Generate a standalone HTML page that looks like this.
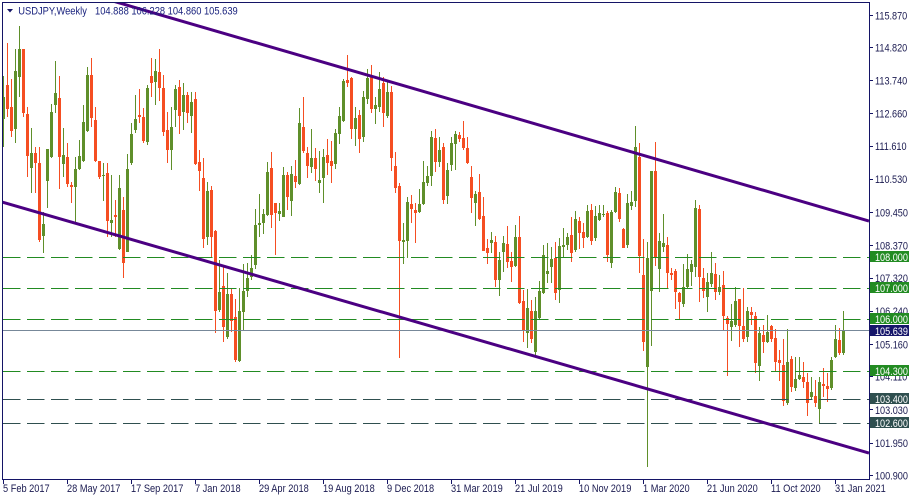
<!DOCTYPE html>
<html><head><meta charset="utf-8"><style>
html,body{margin:0;padding:0;background:#fff;}
svg{display:block;}
text{font-family:"Liberation Sans",Arial,sans-serif;font-size:11px;}
</style></head><body>
<svg width="915" height="500" viewBox="0 0 915 500" xmlns="http://www.w3.org/2000/svg">
<defs><clipPath id="pc"><rect x="3" y="3" width="866" height="476"/></clipPath></defs>
<rect x="0" y="0" width="915" height="500" fill="#ffffff"/>
<g clip-path="url(#pc)" shape-rendering="crispEdges">
<path fill="#5f8f2a" d="M3 76h1V147h-1zM2 97h3V119h-3zM15 49h1V143h-1zM14 71h3V129h-3zM19 26h1V97h-1zM18 49h3V77h-3zM31 128h1V193h-1zM30 153h3V168h-3zM43 212h1V253h-1zM42 224h3V236h-3zM47 149h1V208h-1zM46 149h3V181h-3zM51 104h1V158h-1zM50 112h3V157h-3zM55 61h1V113h-1zM54 93h3V105h-3zM63 128h1V177h-1zM62 155h3V164h-3zM75 157h1V223h-1zM74 169h3V187h-3zM79 140h1V170h-1zM78 156h3V169h-3zM83 105h1V162h-1zM82 122h3V161h-3zM87 67h1V132h-1zM86 75h3V131h-3zM103 163h1V201h-1zM102 175h3V176h-3zM111 175h1V237h-1zM110 220h3V223h-3zM119 175h1V250h-1zM118 188h3V249h-3zM127 154h1V252h-1zM126 169h3V252h-3zM131 123h1V165h-1zM130 134h3V163h-3zM135 95h1V133h-1zM134 119h3V130h-3zM147 85h1V145h-1zM146 88h3V142h-3zM155 59h1V105h-1zM154 71h3V82h-3zM171 107h1V170h-1zM170 127h3V150h-3zM175 85h1V127h-1zM174 89h3V110h-3zM183 83h1V130h-1zM182 95h3V112h-3zM191 92h1V133h-1zM190 102h3V116h-3zM207 182h1V245h-1zM206 191h3V237h-3zM219 260h1V312h-1zM218 292h3V310h-3zM227 273h1V339h-1zM226 294h3V337h-3zM239 288h1V362h-1zM238 311h3V361h-3zM243 264h1V330h-1zM242 291h3V312h-3zM247 263h1V297h-1zM246 278h3V291h-3zM251 255h1V280h-1zM250 268h3V277h-3zM255 209h1V269h-1zM254 225h3V265h-3zM259 194h1V237h-1zM258 223h3V225h-3zM263 209h1V234h-1zM262 214h3V223h-3zM267 162h1V216h-1zM266 172h3V215h-3zM279 203h1V221h-1zM278 211h3V214h-3zM283 167h1V217h-1zM282 175h3V217h-3zM291 166h1V216h-1zM290 174h3V201h-3zM299 108h1V185h-1zM298 123h3V184h-3zM311 129h1V173h-1zM310 158h3V167h-3zM319 151h1V193h-1zM318 180h3V183h-3zM323 149h1V203h-1zM322 157h3V178h-3zM335 129h1V169h-1zM334 133h3V164h-3zM339 107h1V144h-1zM338 116h3V134h-3zM343 79h1V122h-1zM342 81h3V121h-3zM355 107h1V146h-1zM354 118h3V129h-3zM363 91h1V142h-1zM362 97h3V137h-3zM367 69h1V104h-1zM366 78h3V99h-3zM375 97h1V124h-1zM374 105h3V109h-3zM379 72h1V112h-1zM378 89h3V107h-3zM387 82h1V118h-1zM386 92h3V116h-3zM403 223h1V264h-1zM402 240h3V242h-3zM407 197h1V258h-1zM406 202h3V241h-3zM419 189h1V213h-1zM418 204h3V212h-3zM423 161h1V205h-1zM422 182h3V204h-3zM427 166h1V186h-1zM426 176h3V183h-3zM431 131h1V186h-1zM430 137h3V176h-3zM439 137h1V167h-1zM438 150h3V162h-3zM447 163h1V204h-1zM446 170h3V196h-3zM451 137h1V171h-1zM450 143h3V165h-3zM455 131h1V170h-1zM454 134h3V144h-3zM475 191h1V226h-1zM474 194h3V203h-3zM491 232h1V253h-1zM490 240h3V243h-3zM499 252h1V296h-1zM498 260h3V280h-3zM503 236h1V272h-1zM502 243h3V252h-3zM515 225h1V267h-1zM514 237h3V266h-3zM527 289h1V348h-1zM526 308h3V333h-3zM535 297h1V357h-1zM534 311h3V352h-3zM539 281h1V319h-1zM538 291h3V318h-3zM543 245h1V294h-1zM542 255h3V293h-3zM547 243h1V283h-1zM546 271h3V274h-3zM551 247h1V283h-1zM550 259h3V267h-3zM559 238h1V303h-1zM558 246h3V290h-3zM563 228h1V257h-1zM562 245h3V247h-3zM567 233h1V250h-1zM566 237h3V245h-3zM575 211h1V252h-1zM574 219h3V250h-3zM587 205h1V238h-1zM586 211h3V237h-3zM595 206h1V241h-1zM594 216h3V238h-3zM599 205h1V221h-1zM598 213h3V220h-3zM603 205h1V217h-1zM602 214h3V215h-3zM611 210h1V268h-1zM610 212h3V263h-3zM615 187h1V213h-1zM614 192h3V212h-3zM627 194h1V248h-1zM626 203h3V245h-3zM631 191h1V210h-1zM630 202h3V206h-3zM635 126h1V207h-1zM634 147h3V201h-3zM647 242h1V467h-1zM646 258h3V367h-3zM651 171h1V346h-1zM650 171h3V291h-3zM659 233h1V292h-1zM658 241h3V269h-3zM663 214h1V252h-1zM662 243h3V247h-3zM683 264h1V307h-1zM682 287h3V304h-3zM687 254h1V288h-1zM686 269h3V287h-3zM691 260h1V286h-1zM690 264h3V272h-3zM695 200h1V277h-1zM694 208h3V267h-3zM707 273h1V312h-1zM706 282h3V297h-3zM711 252h1V287h-1zM710 273h3V284h-3zM719 275h1V295h-1zM718 287h3V292h-3zM731 304h1V341h-1zM730 321h3V327h-3zM735 287h1V327h-1zM734 301h3V325h-3zM747 307h1V342h-1zM746 311h3V337h-3zM759 327h1V381h-1zM758 333h3V366h-3zM767 315h1V343h-1zM766 332h3V342h-3zM787 329h1V405h-1zM786 362h3V403h-3zM795 357h1V391h-1zM794 379h3V388h-3zM799 357h1V380h-1zM798 375h3V379h-3zM811 377h1V400h-1zM810 392h3V397h-3zM819 377h1V424h-1zM818 382h3V409h-3zM831 357h1V390h-1zM830 360h3V388h-3zM835 325h1V358h-1zM834 339h3V357h-3zM843 311h1V355h-1zM842 330h3V353h-3z"/>
<path fill="#f54e22" d="M7 43h1V117h-1zM6 85h3V109h-3zM11 79h1V137h-1zM10 107h3V131h-3zM23 49h1V117h-1zM22 49h3V113h-3zM27 107h1V177h-1zM26 114h3V156h-3zM35 147h1V193h-1zM34 153h3V163h-3zM39 147h1V242h-1zM38 163h3V240h-3zM59 76h1V189h-1zM58 98h3V157h-3zM67 143h1V187h-1zM66 157h3V184h-3zM71 182h1V203h-1zM70 185h3V187h-3zM91 58h1V127h-1zM90 75h3V118h-3zM95 107h1V162h-1zM94 120h3V161h-3zM99 161h1V179h-1zM98 161h3V177h-3zM107 163h1V237h-1zM106 173h3V221h-3zM115 200h1V237h-1zM114 215h3V217h-3zM123 197h1V278h-1zM122 210h3V263h-3zM139 89h1V123h-1zM138 115h3V117h-3zM143 108h1V143h-1zM142 117h3V141h-3zM151 58h1V97h-1zM150 76h3V83h-3zM159 49h1V101h-1zM158 72h3V88h-3zM163 75h1V136h-1zM162 88h3V132h-3zM167 112h1V163h-1zM166 130h3V150h-3zM179 80h1V134h-1zM178 87h3V116h-3zM187 92h1V123h-1zM186 95h3V113h-3zM195 92h1V165h-1zM194 99h3V164h-3zM199 150h1V191h-1zM198 162h3V171h-3zM203 158h1V248h-1zM202 178h3V239h-3zM211 186h1V257h-1zM210 190h3V237h-3zM215 230h1V333h-1zM214 231h3V311h-3zM223 267h1V342h-1zM222 286h3V327h-3zM231 288h1V332h-1zM230 294h3V321h-3zM235 299h1V362h-1zM234 317h3V360h-3zM271 152h1V228h-1zM270 168h3V215h-3zM275 203h1V255h-1zM274 203h3V213h-3zM287 172h1V210h-1zM286 175h3V197h-3zM295 160h1V188h-1zM294 176h3V182h-3zM303 97h1V153h-1zM302 127h3V151h-3zM307 147h1V178h-1zM306 153h3V166h-3zM315 148h1V181h-1zM314 158h3V169h-3zM327 139h1V175h-1zM326 155h3V163h-3zM331 141h1V183h-1zM330 161h3V166h-3zM347 55h1V87h-1zM346 80h3V83h-3zM351 77h1V139h-1zM350 78h3V129h-3zM359 110h1V153h-1zM358 115h3V139h-3zM371 65h1V113h-1zM370 77h3V109h-3zM383 77h1V127h-1zM382 83h3V113h-3zM391 86h1V171h-1zM390 92h3V158h-3zM395 152h1V193h-1zM394 166h3V188h-3zM399 183h1V358h-1zM398 186h3V241h-3zM411 195h1V223h-1zM410 204h3V209h-3zM415 203h1V243h-1zM414 210h3V213h-3zM435 129h1V172h-1zM434 138h3V162h-3zM443 143h1V204h-1zM442 147h3V200h-3zM459 132h1V142h-1zM458 135h3V139h-3zM463 121h1V150h-1zM462 138h3V148h-3zM467 137h1V164h-1zM466 148h3V163h-3zM471 166h1V213h-1zM470 177h3V198h-3zM479 174h1V220h-1zM478 192h3V219h-3zM483 197h1V251h-1zM482 216h3V251h-3zM487 239h1V264h-1zM486 248h3V253h-3zM495 236h1V287h-1zM494 242h3V280h-3zM507 226h1V268h-1zM506 244h3V262h-3zM511 252h1V282h-1zM510 261h3V267h-3zM519 216h1V304h-1zM518 237h3V303h-3zM523 290h1V342h-1zM522 301h3V330h-3zM531 300h1V343h-1zM530 311h3V339h-3zM555 242h1V300h-1zM554 258h3V293h-3zM571 217h1V262h-1zM570 235h3V253h-3zM579 217h1V249h-1zM578 221h3V233h-3zM583 223h1V248h-1zM582 232h3V238h-3zM591 204h1V245h-1zM590 210h3V241h-3zM607 211h1V262h-1zM606 213h3V255h-3zM619 188h1V222h-1zM618 193h3V219h-3zM623 228h1V248h-1zM622 229h3V248h-3zM639 143h1V273h-1zM638 157h3V256h-3zM643 239h1V351h-1zM642 275h3V342h-3zM655 142h1V266h-1zM654 171h3V258h-3zM667 237h1V289h-1zM666 245h3V273h-3zM671 268h1V280h-1zM670 273h3V275h-3zM675 269h1V309h-1zM674 271h3V292h-3zM679 292h1V319h-1zM678 293h3V302h-3zM699 205h1V302h-1zM698 209h3V277h-3zM703 268h1V298h-1zM702 278h3V291h-3zM715 263h1V300h-1zM714 274h3V292h-3zM723 271h1V330h-1zM722 285h3V316h-3zM727 316h1V376h-1zM726 318h3V324h-3zM739 299h1V347h-1zM738 299h3V326h-3zM743 288h1V342h-1zM742 326h3V339h-3zM751 307h1V325h-1zM750 312h3V315h-3zM755 312h1V373h-1zM754 316h3V363h-3zM763 325h1V353h-1zM762 335h3V342h-3zM771 325h1V342h-1zM770 326h3V339h-3zM775 329h1V371h-1zM774 338h3V362h-3zM779 350h1V381h-1zM778 360h3V363h-3zM783 339h1V406h-1zM782 365h3V401h-3zM791 356h1V392h-1zM790 359h3V387h-3zM803 362h1V388h-1zM802 377h3V382h-3zM807 373h1V416h-1zM806 382h3V403h-3zM815 380h1V407h-1zM814 396h3V403h-3zM823 368h1V397h-1zM822 384h3V386h-3zM827 373h1V402h-1zM826 386h3V389h-3zM839 328h1V355h-1zM838 340h3V353h-3z"/>
</g>
<g clip-path="url(#pc)" fill="none">
<g stroke-width="1" stroke-dasharray="17.5 6.5">
<line x1="3" y1="257.5" x2="869" y2="257.5" stroke="#228b22"/>
<line x1="3" y1="288.5" x2="869" y2="288.5" stroke="#228b22"/>
<line x1="3" y1="319.5" x2="869" y2="319.5" stroke="#228b22"/>
<line x1="3" y1="371.5" x2="869" y2="371.5" stroke="#228b22"/>
<line x1="3" y1="399.5" x2="869" y2="399.5" stroke="#2f4f4f"/>
<line x1="3" y1="423.5" x2="869" y2="423.5" stroke="#2f4f4f"/>
</g>
<line x1="3" y1="330.5" x2="869" y2="330.5" stroke="#778899" stroke-width="1"/>
<line x1="111" y1="0.5" x2="869" y2="221" stroke="#4b0082" stroke-width="3"/>
<line x1="2" y1="202" x2="869" y2="453" stroke="#4b0082" stroke-width="3"/>
</g>
<g stroke="#141466" stroke-width="1" fill="none" shape-rendering="crispEdges">
<path d="M2.5 2.5H869.5V479.5H2.5Z"/>
<path d="M869 15.5h4M869 47.5h4M869 80.5h4M869 113.5h4M869 146.5h4M869 179.5h4M869 212.5h4M869 245.5h4M869 278.5h4M869 311.5h4M869 344.5h4M869 376.5h4M869 409.5h4M869 443.5h4M869 475.5h4"/>
<path d="M3.5 479v5M67.5 479v5M131.5 479v5M195.5 479v5M259.5 479v5M323.5 479v5M387.5 479v5M451.5 479v5M515.5 479v5M579.5 479v5M643.5 479v5M707.5 479v5M771.5 479v5M835.5 479v5"/>
</g>
<g fill="#1a1a50" transform="scale(0.83,1)">
<text x="1054.2" y="19.5">115.870</text>
<text x="1054.2" y="51.5">114.820</text>
<text x="1054.2" y="84.5">113.740</text>
<text x="1054.2" y="117.5">112.660</text>
<text x="1054.2" y="150">111.610</text>
<text x="1054.2" y="183">110.530</text>
<text x="1054.2" y="216.5">109.450</text>
<text x="1054.2" y="249.5">108.370</text>
<text x="1054.2" y="282">107.320</text>
<text x="1054.2" y="315">106.240</text>
<text x="1054.2" y="348.5">105.160</text>
<text x="1054.2" y="380.5">104.110</text>
<text x="1054.2" y="414">103.030</text>
<text x="1054.2" y="447">101.950</text>
<text x="1054.2" y="479.5">100.900</text>
</g>
<g shape-rendering="crispEdges">
<rect x="870" y="251" width="39" height="11" fill="#228b22"/>
<rect x="870" y="282" width="39" height="11" fill="#228b22"/>
<rect x="870" y="313" width="39" height="11" fill="#228b22"/>
<rect x="870" y="325" width="39" height="11" fill="#16166a"/>
<rect x="870" y="365" width="39" height="11" fill="#228b22"/>
<rect x="870" y="393" width="39" height="11" fill="#2f4f4f"/>
<rect x="870" y="417" width="39" height="11" fill="#2f4f4f"/>
</g>
<g fill="#ffffff" transform="scale(0.83,1)">
<text x="1054.2" y="261">108.000</text>
<text x="1054.2" y="292">107.000</text>
<text x="1054.2" y="323">106.000</text>
<text x="1054.2" y="335">105.639</text>
<text x="1054.2" y="375">104.300</text>
<text x="1054.2" y="403">103.400</text>
<text x="1054.2" y="427">102.600</text>
</g>
<g fill="#1a1a50" transform="scale(0.84,1)">
<text x="3.6" y="492">5 Feb 2017</text>
<text x="79.8" y="492">28 May 2017</text>
<text x="156" y="492">17 Sep 2017</text>
<text x="232.1" y="492">7 Jan 2018</text>
<text x="308.3" y="492">29 Apr 2018</text>
<text x="384.5" y="492">19 Aug 2018</text>
<text x="460.7" y="492">9 Dec 2018</text>
<text x="536.9" y="492">31 Mar 2019</text>
<text x="613.1" y="492">21 Jul 2019</text>
<text x="689.3" y="492">10 Nov 2019</text>
<text x="765.5" y="492">1 Mar 2020</text>
<text x="841.7" y="492">21 Jun 2020</text>
<text x="917.9" y="492">11 Oct 2020</text>
<text x="994" y="492">31 Jan 2021</text>
</g>
<polygon points="7,9 13,9 10,12.5" fill="#141466"/>
<g fill="#1a237e" transform="scale(0.85,1)">
<text x="21.5" y="14.5">USDJPY,Weekly</text>
<text x="111.8" y="14.5">104.888 106.228 104.860 105.639</text>
</g>
</svg>
</body></html>
